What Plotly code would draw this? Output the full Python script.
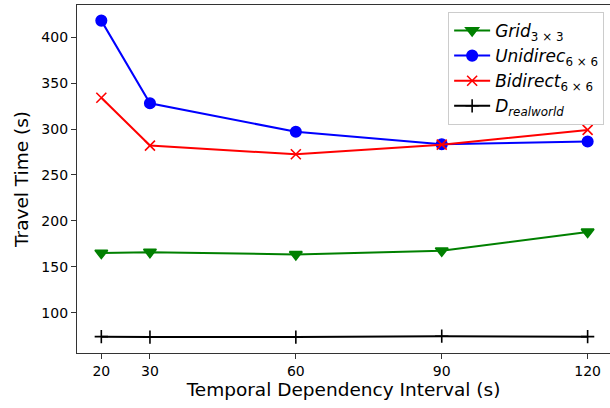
import plotly.graph_objects as go

intervals = [20, 30, 60, 90, 120]
grid_3x3 = [165, 166, 163.5, 167.5, 188]
unidirec_6x6 = [418, 328, 297, 283.5, 286.5]
bidirect_6x6 = [334, 282, 272.5, 283, 299]
d_realworld = [74, 73.5, 73.5, 74.5, 74]
x_ticks = [20, 30, 60, 90, 120]
y_ticks = [100, 150, 200, 250, 300, 350, 400]

series = [
    ("<i>Grid</i><sub>3 × 3</sub>", grid_3x3, "green", "triangle-down", 11),
    ("<i>Unidirec</i><sub>6 × 6</sub>", unidirec_6x6, "blue", "circle", 10.5),
    ("<i>Bidirect</i><sub>6 × 6</sub>", bidirect_6x6, "red", "x-thin-open", 10),
    ("<i>D</i><sub><i>realworld</i></sub>", d_realworld, "black", "cross-thin-open", 9.5),
]

fig = go.Figure()
for name, vals, color, sym, size in series:
    fig.add_trace(go.Scatter(
        x=intervals, y=vals, name=name, mode="lines+markers",
        line=dict(color=color, width=2),
        marker=dict(symbol=sym, size=size, color=color,
                    line=dict(color=color, width=1.6)),
    ))

font = "DejaVu Sans"
fig.update_layout(
    width=610, height=408,
    margin=dict(l=77, r=0, t=5, b=55),
    plot_bgcolor="white", paper_bgcolor="white",
    font=dict(family=font, size=14, color="black"),
    showlegend=True,
    legend=dict(
        x=0.989, xanchor="right", y=0.98, yanchor="top",
        bgcolor="rgba(255,255,255,0.8)", bordercolor="#cccccc", borderwidth=1,
        font=dict(family=font, size=17), tracegroupgap=0, itemwidth=36,
    ),
)
fig.update_xaxes(
    range=[15, 124.6], tickvals=x_ticks, ticktext=[str(t) for t in x_ticks],
    showgrid=False, zeroline=False, showline=True, linecolor="#333333", linewidth=1.2,
    mirror=True, ticks="outside", ticklen=5, tickcolor="#333333",
    title=dict(text="Temporal Dependency Interval (s)", font=dict(size=18.5), standoff=0),
)
fig.update_yaxes(
    range=[56.2, 435], tickvals=y_ticks,
    showgrid=False, zeroline=False, showline=True, linecolor="#333333", linewidth=1.2,
    mirror=False, ticks="outside", ticklen=5, tickcolor="#333333",
    title=dict(text="Travel Time (s)", font=dict(size=18.5), standoff=7),
)
fig.write_html(
    "out.html",
    config={"displayModeBar": False},
    post_script="document.body.style.margin='0';document.body.style.overflow='hidden';",
)
